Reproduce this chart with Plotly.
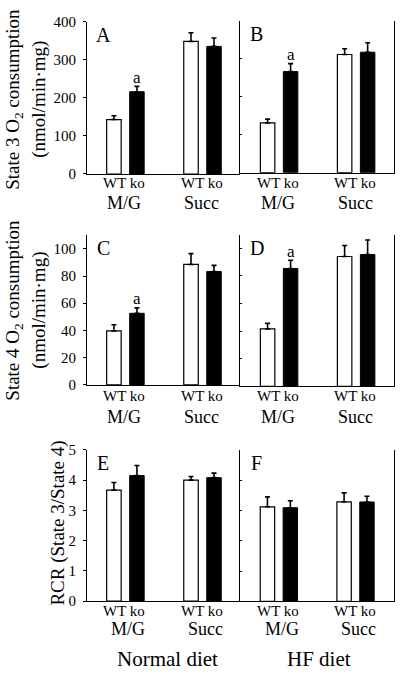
import plotly.graph_objects as go

W, H = 400, 678
FONT = "Liberation Serif"

# ---------------- data ----------------
substrates = ["M/G", "Succ"]
genotypes = ["WT", "ko"]
panel_letters = ["A", "B", "C", "D", "E", "F"]

# values per panel: [M/G, Succ]
A_wt = [143, 348]
A_wt_err = [10, 23]
A_ko = [216, 335]
A_ko_err = [14, 22]
B_wt = [131, 311]
B_wt_err = [10, 15]
B_ko = [266, 317]
B_ko_err = [21, 25]

C_wt = [39.7, 88.5]
C_wt_err = [4.5, 8]
C_ko = [52.6, 83.3]
C_ko_err = [4, 4.5]
D_wt = [41.6, 94.1]
D_wt_err = [4, 8]
D_ko = [85.4, 95.5]
D_ko_err = [6, 10.5]

E_wt = [3.67, 4.0]
E_wt_err = [0.25, 0.12]
E_ko = [4.15, 4.08]
E_ko_err = [0.33, 0.15]
F_wt = [3.13, 3.29]
F_wt_err = [0.33, 0.30]
F_ko = [3.10, 3.29]
F_ko_err = [0.23, 0.19]

# significance marks ("a") per panel: [M/G, Succ] for ko
sig_ko = {"A": ["a", ""], "B": ["a", ""], "C": ["a", ""], "D": ["a", ""],
          "E": ["", ""], "F": ["", ""]}

row_titles = [["State 3 O<sub>2</sub> consumption", "(nmol/min·mg)"],
              ["State 4 O<sub>2</sub> consumption", "(nmol/min·mg)"],
              ["RCR (State 3/State 4)"]]
diet_labels = ["Normal diet", "HF diet"]

y_ranges = [[0, 400], [0, 110], [0, 5]]
y_ticks = [[0, 100, 200, 300, 400], [0, 20, 40, 60, 80, 100], [0, 1, 2, 3, 4, 5]]

panels = {
    "A": (A_wt, A_wt_err, A_ko, A_ko_err),
    "B": (B_wt, B_wt_err, B_ko, B_ko_err),
    "C": (C_wt, C_wt_err, C_ko, C_ko_err),
    "D": (D_wt, D_wt_err, D_ko, D_ko_err),
    "E": (E_wt, E_wt_err, E_ko, E_ko_err),
    "F": (F_wt, F_wt_err, F_ko, F_ko_err),
}

# ---------------- layout geometry (pixels) ----------------
geom = {
    "A": ((87, 240), (14, 170)),
    "B": ((240, 394.3), (13, 168.7)),
    "C": ((87, 240), (232.7, 386)),
    "D": ((240, 394.3), (232, 387.5)),
    "E": ((87, 240), (452.5, 607.5)),
    "F": ((240, 393.5), (453, 607.7)),
}
GROUP_POS = [0.0, 3.35]
BAR_W = 0.63
XR_LEFT = [-1.17, 5.48]
XR_RIGHT = [-1.2, 5.51]

label_rows_y = [(179, 200), (397.5, 418.5), (618, 636.5)]
group_label_shift = [-1, -1, 3]


def px_x(p):
    return p / W


def px_y(p):
    return 1 - p / H


fig = go.Figure()
annotations = []

for i, letter in enumerate(panel_letters):
    row, col = divmod(i, 2)
    n = i + 1
    xa = "x" if n == 1 else f"x{n}"
    ya = "y" if n == 1 else f"y{n}"
    wt, wt_err, ko, ko_err = panels[letter]
    x_wt = [GROUP_POS[0], GROUP_POS[1]]
    x_ko = [GROUP_POS[0] + 1, GROUP_POS[1] + 1]

    fig.add_trace(go.Bar(
        x=x_wt, y=wt, width=BAR_W, xaxis=xa, yaxis=ya,
        marker=dict(color="white", line=dict(color="black", width=1.2)),
        error_y=dict(type="data", symmetric=False, array=wt_err,
                     arrayminus=[0] * len(wt_err), color="black",
                     thickness=1.6, width=2.5),
        showlegend=False, hoverinfo="skip"))
    fig.add_trace(go.Bar(
        x=x_ko, y=ko, width=BAR_W, xaxis=xa, yaxis=ya,
        marker=dict(color="black", line=dict(color="black", width=1)),
        error_y=dict(type="data", symmetric=False, array=ko_err,
                     arrayminus=[0] * len(ko_err), color="black",
                     thickness=1.6, width=2.5),
        showlegend=False, hoverinfo="skip"))

    (x0, x1), (yt, yb) = geom[letter]
    left = col == 0
    xaxis = dict(domain=[px_x(x0), px_x(x1)], anchor=ya,
                 range=XR_LEFT if left else XR_RIGHT,
                 showline=True, linecolor="black", linewidth=1,
                 showticklabels=False, ticks="", showgrid=False,
                 zeroline=False, fixedrange=True)
    yaxis = dict(domain=[px_y(yb), px_y(yt)], anchor=xa,
                 range=y_ranges[row], tickvals=y_ticks[row],
                 showline=True, linecolor="black", linewidth=1,
                 showgrid=False, zeroline=False, fixedrange=True,
                 tickcolor="black", tickwidth=1,
                 tickfont=dict(family=FONT, size=15, color="black"))
    if left:
        yaxis.update(ticks="outside", ticklen=3, showticklabels=True,
                     ticklabelstandoff=4)
    else:
        yaxis.update(ticks="inside", ticklen=2, showticklabels=False,
                     mirror=True)
    key_x = "xaxis" if n == 1 else f"xaxis{n}"
    key_y = "yaxis" if n == 1 else f"yaxis{n}"
    fig.layout[key_x] = xaxis
    fig.layout[key_y] = yaxis

    # panel letter
    annotations.append(dict(
        text=letter, xref="paper", yref="paper",
        x=px_x(x0 + 16.5), y=px_y(yt + 13.5),
        xanchor="center", yanchor="middle", showarrow=False,
        font=dict(family=FONT, size=20, color="black")))

    # significance marks
    for j, s in enumerate(sig_ko[letter]):
        if s:
            annotations.append(dict(
                text=s, xref=xa, yref=ya, x=x_ko[j], y=ko[j] + ko_err[j],
                xanchor="center", yanchor="middle", yshift=9,
                showarrow=False,
                font=dict(family=FONT, size=17, color="black")))

    # genotype and substrate labels under each group
    y_gen, y_sub = label_rows_y[row]
    for j, sub in enumerate(substrates):
        gc = GROUP_POS[j] + 0.5
        annotations.append(dict(
            text=" ".join(genotypes), xref=xa, yref="paper",
            x=gc, y=px_y(y_gen), xshift=-1,
            xanchor="center", yanchor="middle", showarrow=False,
            font=dict(family=FONT, size=15, color="black")))
        annotations.append(dict(
            text=sub, xref=xa, yref="paper",
            x=gc, y=px_y(y_sub), xshift=group_label_shift[row],
            xanchor="center", yanchor="middle", showarrow=False,
            font=dict(family=FONT, size=18, color="black")))

# row titles (y-axis titles)
title_centers = [94, 310, 527]
for r, lines in enumerate(row_titles):
    xs = [14, 39] if len(lines) == 2 else [58]
    for line, xp in zip(lines, xs):
        annotations.append(dict(
            text=line, xref="paper", yref="paper",
            x=px_x(xp), y=px_y(title_centers[r]), textangle=-90,
            xanchor="center", yanchor="middle", showarrow=False,
            font=dict(family=FONT, size=19, color="black")))

# diet labels
for label, xp in zip(diet_labels, [167, 318.5]):
    annotations.append(dict(
        text=label, xref="paper", yref="paper",
        x=px_x(xp), y=px_y(667), xanchor="center", yanchor="middle",
        showarrow=False, font=dict(family=FONT, size=21, color="black")))

fig.update_layout(
    width=W, height=H, autosize=False,
    margin=dict(l=0, r=0, t=0, b=0),
    paper_bgcolor="white", plot_bgcolor="white",
    barmode="overlay", showlegend=False,
    annotations=annotations,
)

fig.write_html(
    "out.html",
    config={"displayModeBar": False},
    post_script="document.body.style.margin='0';document.body.style.overflow='hidden';",
)
